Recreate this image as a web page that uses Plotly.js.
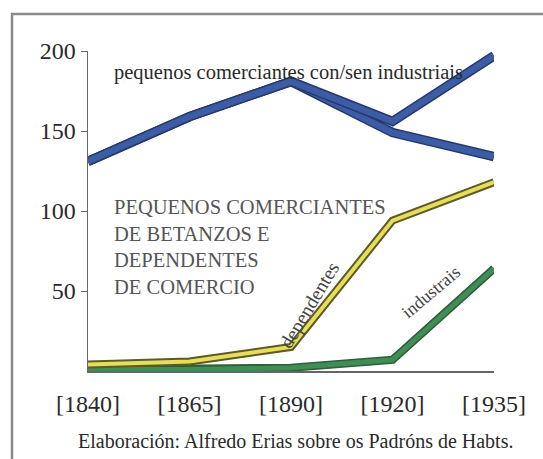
<!DOCTYPE html>
<html>
<head>
<meta charset="utf-8">
<script src="https://cdn.plot.ly/plotly-3.0.1.min.js"></script>
<style>
html,body{margin:0;padding:0;background:#fff;}
#chart{width:543px;height:459px;}
</style>
</head>
<body>
<div id="chart"></div>
<script>
const categories = ["[1840]", "[1865]", "[1890]", "[1920]", "[1935]"];
const conIndustriais = [131, 159, 181, 156, 197];
const senIndustriais = [131, 159, 181, 149, 134];
const dependentes = [4, 6, 15, 94, 118];
const industriais = [1, 1, 2, 7, 64];
const yTicks = [50, 100, 150, 200];

const serif = "Liberation Serif, Times New Roman, serif";

function pair(y, outer, inner, wOuter, wInner) {
  return [
    {x: categories, y: y, type: "scatter", mode: "lines", line: {color: outer, width: wOuter}, hoverinfo: "skip", cliponaxis: false},
    {x: categories, y: y, type: "scatter", mode: "lines", line: {color: inner, width: wInner}, hoverinfo: "skip", cliponaxis: false}
  ];
}

const traces = [].concat(
  pair(industriais, "#2f5e3a", "#3f8e55", 8, 5),
  pair(dependentes, "#5e5a22", "#e4de5c", 8, 4),
  pair(senIndustriais, "#27396a", "#3c5ca6", 9.5, 6.5),
  pair(conIndustriais, "#27396a", "#3c5ca6", 9.5, 6.5)
);

const W = 406, H = 320;
const layout = {
  width: 543, height: 459,
  margin: {l: 88, r: 49, t: 51, b: 88},
  paper_bgcolor: "#ffffff", plot_bgcolor: "rgba(0,0,0,0)",
  showlegend: false,
  font: {family: serif, color: "#2a2a2a"},
  xaxis: {
    type: "category", range: [0, 4], showgrid: false, zeroline: false,
    showline: true, linecolor: "#666", linewidth: 1.5,
    ticks: "", tickfont: {size: 24, family: serif, color: "#2a2a2a"},
    ticklabelstandoff: 11, fixedrange: true
  },
  yaxis: {
    range: [0, 200], tickvals: yTicks, showgrid: false, zeroline: false,
    showline: true, linecolor: "#666", linewidth: 1.5,
    ticks: "outside", ticklen: 6, tickcolor: "#666",
    tickfont: {size: 24, family: serif, color: "#2a2a2a"}, fixedrange: true
  },
  shapes: [
    {type: "rect", xref: "paper", yref: "paper", x0: -76/W, x1: 1 + 70/W, y0: -100/H, y1: 1 + 37/H,
     line: {color: "#8a8a8a", width: 2.5}, fillcolor: "rgba(0,0,0,0)"}
  ],
  annotations: [
    {xref: "paper", yref: "paper", x: 24/W, y: 1 - 21/H, xanchor: "left", yanchor: "middle",
     text: "pequenos comerciantes con/sen industriais", showarrow: false,
     font: {size: 20.5, family: serif, color: "#2a2a2a"}},
    {xref: "paper", yref: "paper", x: 24/W, y: 1 - 143/H, xanchor: "left", yanchor: "top", align: "left",
     text: "PEQUENOS COMERCIANTES<br>DE BETANZOS E<br>DEPENDENTES<br>DE COMERCIO", showarrow: false,
     font: {size: 20.5, family: serif, color: "#555"}},
    {xref: "paper", yref: "paper", x: 221/W, y: 1 - 254/H, xanchor: "center", yanchor: "middle",
     text: "dependentes", textangle: -59, showarrow: false,
     font: {size: 19.5, family: serif, color: "#444"}},
    {xref: "paper", yref: "paper", x: 343/W, y: 1 - 241/H, xanchor: "center", yanchor: "middle",
     text: "industrais", textangle: -40, showarrow: false,
     font: {size: 18, family: serif, color: "#444"}},
    {xref: "paper", yref: "paper", x: 207/W, y: -70/H, xanchor: "center", yanchor: "middle",
     text: "Elaboración: Alfredo Erias sobre os Padróns de Habts.", showarrow: false,
     font: {size: 20, family: serif, color: "#2a2a2a"}}
  ]
};

Plotly.newPlot("chart", traces, layout, {staticPlot: true, displayModeBar: false});
</script>
</body>
</html>
